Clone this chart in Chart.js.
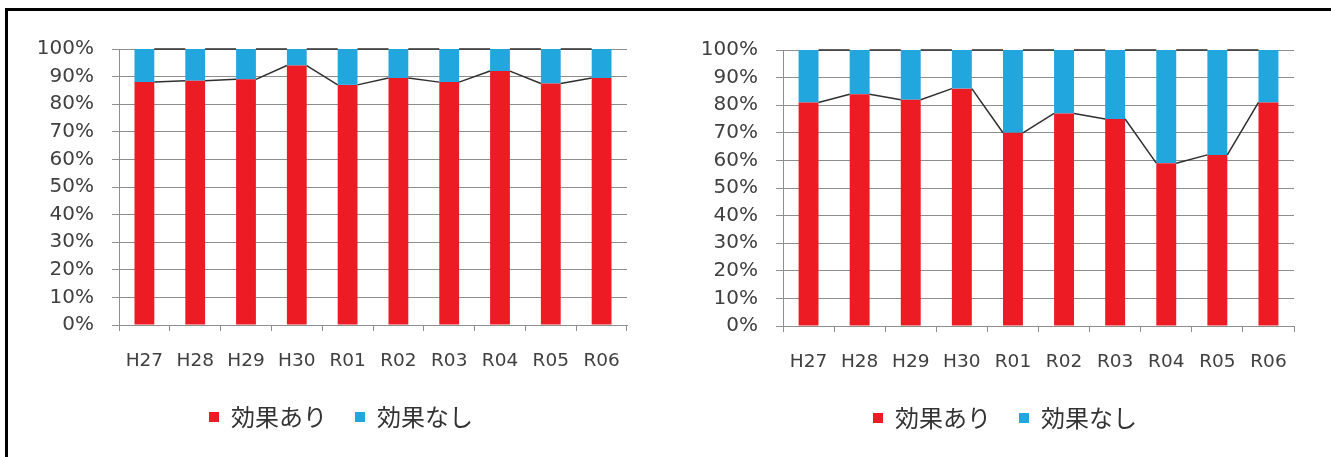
<!DOCTYPE html>
<html><head><meta charset="utf-8">
<script src="https://cdn.jsdelivr.net/npm/chart.js@4"></script>
<style>
html,body{margin:0;padding:0;background:#fff;width:1331px;height:457px;overflow:hidden}
#frame{position:absolute;left:5px;top:8px;width:1326px;height:449px;border-top:3px solid #000;border-left:3px solid #000;box-sizing:border-box}
.box{position:absolute;top:10px;height:440px}
</style></head><body>
<div id="frame"></div>
<div class="box" style="left:10px;width:650px"><canvas id="c1"></canvas></div>
<div class="box" style="left:670px;width:660px"><canvas id="c2"></canvas></div>
<script>
const categories = ['H27','H28','H29','H30','R01','R02','R03','R04','R05','R06'];
const seriesNames = ['効果あり','効果なし'];
const yTickLabels = ['0%','10%','20%','30%','40%','50%','60%','70%','80%','90%','100%'];

const leftEffective = [88, 88.5, 89, 94, 87, 89.5, 88, 92, 87.5, 89.5];
const leftNoEffect  = [12, 11.5, 11, 6, 13, 10.5, 12, 8, 12.5, 10.5];

const rightEffective = [81, 84, 82, 86, 70, 77, 75, 59, 62, 81];
const rightNoEffect  = [19, 16, 18, 14, 30, 23, 25, 41, 38, 19];

const RED = '#ED1C24';
const BLUE = '#22A6DE';
const GRID = '#8e8e8e';

const seriesLines = {
  id: 'seriesLines',
  afterLayout(chart) {
    // let the y tick labels use the space left of the axis box (avoid clipping)
    chart.scales.y.left = 0;
  },
  afterDatasetsDraw(chart) {
    const ctx = chart.ctx;
    ctx.save();
    ctx.strokeStyle = '#2f2f2f';
    ctx.lineWidth = 1.5;
    chart.data.datasets.forEach((ds, di) => {
      const meta = chart.getDatasetMeta(di);
      ctx.beginPath();
      for (let i = 0; i < meta.data.length - 1; i++) {
        const a = meta.data[i], b = meta.data[i + 1];
        ctx.moveTo(a.x + a.width / 2, a.y);
        ctx.lineTo(b.x - b.width / 2, b.y);
      }
      ctx.stroke();
    });
    ctx.restore();
  }
};

function makeChart(id, eff, none, pad, yWidth) {
  new Chart(document.getElementById(id), {
    type: 'bar',
    data: {
      labels: categories,
      datasets: [
        { label: seriesNames[0], data: eff, backgroundColor: RED, borderWidth: 0, barPercentage: 0.39, categoryPercentage: 1 },
        { label: seriesNames[1], data: none, backgroundColor: BLUE, borderWidth: 0, barPercentage: 0.39, categoryPercentage: 1 }
      ]
    },
    options: {
      animation: false,
      responsive: true,
      maintainAspectRatio: false,
      layout: { padding: pad },
      plugins: {
        legend: {
          position: 'bottom',
          labels: { boxWidth: 10, boxHeight: 10, padding: 28, color: '#333', font: { family: '"Noto Sans CJK JP"', size: 24 } }
        },
        tooltip: { enabled: false }
      },
      scales: {
        x: {
          stacked: true,
          offset: true,
          grid: { offset: true, drawOnChartArea: false, drawTicks: true, tickLength: 6, color: GRID },
          border: { color: GRID },
          ticks: { color: '#404040', font: { family: 'DejaVu Sans', size: 18.5 }, padding: 19, maxRotation: 0, autoSkip: false },
          afterFit: s => { s.height = 52; }
        },
        y: {
          stacked: true,
          min: 0, max: 100,
          ticks: { stepSize: 10, padding: 18, color: '#404040', font: { family: 'DejaVu Sans', size: 20 },
                   callback: v => yTickLabels[Math.round(v / 10)] },
          grid: { color: GRID, tickLength: 7 },
          border: { color: GRID },
          afterFit: s => { s.width = yWidth; }
        }
      }
    },
    plugins: [seriesLines]
  });
}

makeChart('c1', leftEffective, leftNoEffect, { left: 45, right: 33, top: 39, bottom: 11 }, 64);
makeChart('c2', rightEffective, rightNoEffect, { left: 46, right: 36, top: 40, bottom: 10 }, 67);
</script>
</body></html>
